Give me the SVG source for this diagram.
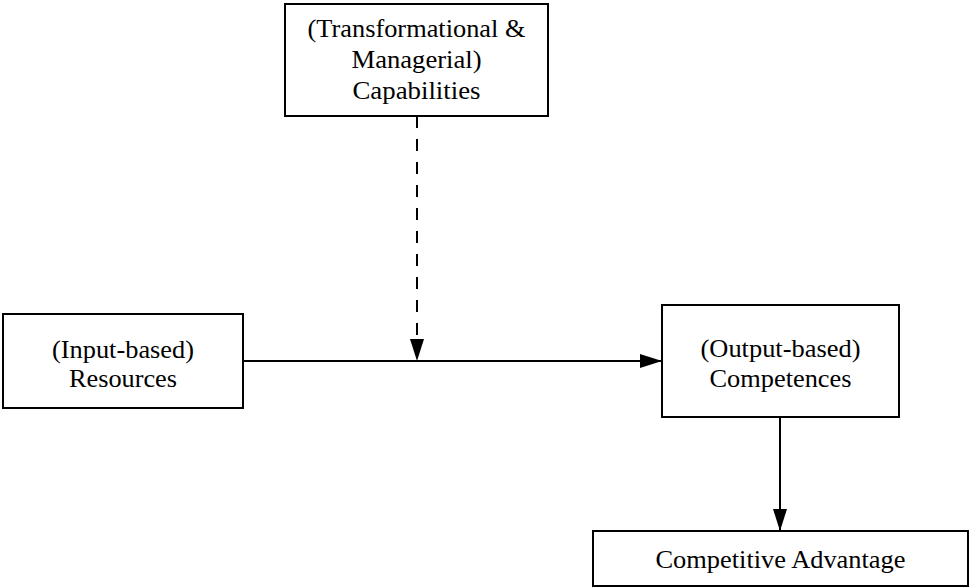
<svg xmlns="http://www.w3.org/2000/svg" width="969" height="587" viewBox="0 0 969 587">
  <style>
    .box { fill: #ffffff; stroke: #000000; stroke-width: 2; }
    .lbl { font-family: 'Liberation Serif', 'Times New Roman', serif; font-size: 26px; fill: #000000; text-anchor: middle; }
    .link { fill: none; stroke: #000000; stroke-width: 2; }
    .dash { stroke-dasharray: 12 11; }
  </style>
  <defs>
    <marker id="arrow" markerUnits="userSpaceOnUse" markerWidth="22" markerHeight="14" refX="22" refY="7" orient="auto">
      <path d="M0,0 L22,7 L0,14 Z" fill="#000000"/>
    </marker>
  </defs>
  <rect width="969" height="587" fill="#ffffff"/>

  <g id="connectors">
    <line class="link" x1="243" y1="361" x2="662" y2="361" marker-end="url(#arrow)"/>
    <line class="link dash" x1="417" y1="116" x2="417" y2="361" marker-end="url(#arrow)"/>
    <line class="link" x1="780" y1="417" x2="780" y2="531" marker-end="url(#arrow)"/>
  </g>

  <g id="capabilities">
    <rect class="box" x="285" y="4" width="263" height="112"/>
    <text class="lbl" x="416.5" y="37" textLength="218" lengthAdjust="spacingAndGlyphs">(Transformational &amp;</text>
    <text class="lbl" x="416.5" y="68" textLength="130" lengthAdjust="spacingAndGlyphs">Managerial)</text>
    <text class="lbl" x="416.5" y="99" textLength="128" lengthAdjust="spacingAndGlyphs">Capabilities</text>
  </g>

  <g id="resources">
    <rect class="box" x="3" y="314" width="240" height="94"/>
    <text class="lbl" x="123" y="358" textLength="142" lengthAdjust="spacingAndGlyphs">(Input-based)</text>
    <text class="lbl" x="123" y="387" textLength="108" lengthAdjust="spacingAndGlyphs">Resources</text>
  </g>

  <g id="competences">
    <rect class="box" x="662" y="305" width="237" height="112"/>
    <text class="lbl" x="780.5" y="357" textLength="160" lengthAdjust="spacingAndGlyphs">(Output-based)</text>
    <text class="lbl" x="780.5" y="387" textLength="142" lengthAdjust="spacingAndGlyphs">Competences</text>
  </g>

  <g id="competitive-advantage">
    <rect class="box" x="593" y="531" width="375" height="55"/>
    <text class="lbl" x="780.5" y="568" textLength="250" lengthAdjust="spacingAndGlyphs">Competitive Advantage</text>
  </g>
</svg>
